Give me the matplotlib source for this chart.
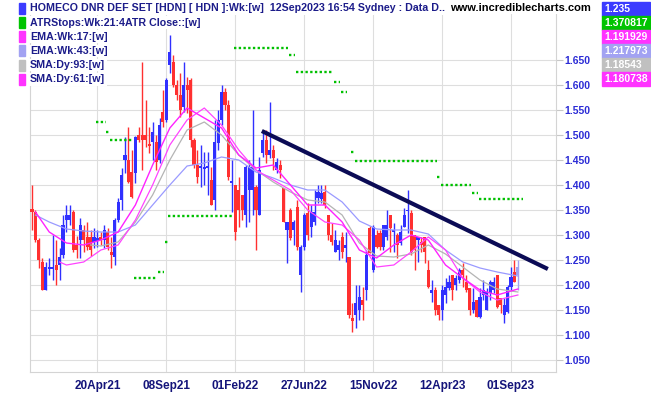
import matplotlib
matplotlib.use("Agg")
import matplotlib.pyplot as plt
import numpy as np
from matplotlib.patches import Rectangle

plt.rcParams['font.family'] = ['Liberation Sans', 'DejaVu Sans']

# weekly candles, bar 0 = early Dec 2020
opens = [1.352, 1.346, 1.29, 1.246, 1.19, 1.232, 1.232, 1.24, 1.24, 1.26,
         1.33, 1.33, 1.346, 1.28, 1.29, 1.31, 1.296, 1.296, 1.286, 1.288,
         1.296, 1.29, 1.306, 1.266, 1.256, 1.33, 1.37, 1.45, 1.45, 1.426,
         1.424, 1.50, 1.50, 1.50, 1.482, 1.486, 1.486, 1.45, 1.546, 1.53,
         1.64, 1.646, 1.60, 1.58, 1.556, 1.60, 1.61, 1.49, 1.44, 1.434,
         1.432, 1.434, 1.41, 1.37, 1.484, 1.53, 1.586, 1.56, 1.404, 1.40,
         1.39, 1.38, 1.34, 1.39, 1.39, 1.396, 1.34, 1.464, 1.49, 1.46,
         1.47, 1.43, 1.44, 1.394, 1.31, 1.35, 1.31, 1.356, 1.22, 1.276,
         1.344, 1.316, 1.326, 1.374, 1.372, 1.386, 1.34, 1.30, 1.266, 1.27,
         1.296, 1.274, 1.256, 1.134, 1.14, 1.15, 1.17, 1.19, 1.314, 1.23,
         1.30, 1.304, 1.276, 1.296, 1.34, 1.306, 1.30, 1.284, 1.316, 1.348,
         1.344, 1.30, 1.29, 1.286, 1.296, 1.23, 1.184, 1.19, 1.16, 1.15,
         1.18, 1.194, 1.22, 1.20, 1.21, 1.23, 1.206, 1.194, 1.15, 1.17,
         1.136, 1.18, 1.15, 1.184, 1.19, 1.22, 1.174, 1.14, 1.146, 1.196,
         1.226, 1.22]
highs = [1.40, 1.35, 1.294, 1.254, 1.246, 1.254, 1.30, 1.29, 1.274, 1.34,
         1.36, 1.36, 1.35, 1.298, 1.334, 1.32, 1.326, 1.31, 1.314, 1.31,
         1.306, 1.32, 1.314, 1.296, 1.334, 1.374, 1.434, 1.496, 1.516, 1.47,
         1.498, 1.516, 1.646, 1.57, 1.516, 1.526, 1.50, 1.534, 1.59, 1.614,
         1.70, 1.66, 1.61, 1.624, 1.646, 1.616, 1.614, 1.494, 1.47, 1.48,
         1.466, 1.466, 1.436, 1.53, 1.55, 1.60, 1.594, 1.57, 1.45, 1.40,
         1.416, 1.38, 1.44, 1.45, 1.55, 1.40, 1.456, 1.506, 1.51, 1.566,
         1.48, 1.454, 1.45, 1.394, 1.326, 1.354, 1.33, 1.37, 1.28, 1.344,
         1.364, 1.36, 1.39, 1.40, 1.40, 1.40, 1.34, 1.324, 1.31, 1.29,
         1.306, 1.306, 1.256, 1.164, 1.20, 1.20, 1.196, 1.27, 1.318, 1.32,
         1.31, 1.31, 1.32, 1.35, 1.34, 1.324, 1.304, 1.32, 1.354, 1.39,
         1.35, 1.30, 1.296, 1.296, 1.296, 1.25, 1.21, 1.196, 1.16, 1.20,
         1.214, 1.22, 1.22, 1.22, 1.234, 1.244, 1.22, 1.194, 1.194, 1.17,
         1.194, 1.21, 1.194, 1.21, 1.216, 1.22, 1.174, 1.174, 1.20, 1.236,
         1.25, 1.25]
lows = [1.31, 1.286, 1.234, 1.19, 1.19, 1.22, 1.21, 1.20, 1.21, 1.254,
        1.306, 1.32, 1.266, 1.254, 1.254, 1.266, 1.27, 1.258, 1.274, 1.276,
        1.28, 1.274, 1.27, 1.234, 1.24, 1.326, 1.35, 1.424, 1.404, 1.374,
        1.404, 1.486, 1.43, 1.476, 1.464, 1.45, 1.43, 1.444, 1.516, 1.526,
        1.624, 1.596, 1.57, 1.536, 1.546, 1.544, 1.476, 1.434, 1.404, 1.396,
        1.40, 1.38, 1.36, 1.35, 1.47, 1.52, 1.55, 1.41, 1.346, 1.29,
        1.316, 1.33, 1.316, 1.326, 1.34, 1.27, 1.34, 1.456, 1.444, 1.454,
        1.43, 1.424, 1.414, 1.326, 1.244, 1.29, 1.28, 1.27, 1.186, 1.27,
        1.29, 1.296, 1.32, 1.364, 1.364, 1.354, 1.29, 1.28, 1.266, 1.25,
        1.254, 1.246, 1.134, 1.106, 1.114, 1.13, 1.13, 1.17, 1.264, 1.226,
        1.274, 1.27, 1.27, 1.29, 1.266, 1.266, 1.254, 1.28, 1.316, 1.304,
        1.26, 1.23, 1.246, 1.266, 1.244, 1.194, 1.166, 1.14, 1.13, 1.13,
        1.164, 1.19, 1.17, 1.19, 1.204, 1.196, 1.186, 1.14, 1.144, 1.136,
        1.134, 1.17, 1.15, 1.17, 1.184, 1.154, 1.144, 1.124, 1.144, 1.19,
        1.206, 1.19]
closes = [1.346, 1.29, 1.25, 1.19, 1.236, 1.236, 1.236, 1.23, 1.256, 1.32,
          1.34, 1.34, 1.27, 1.27, 1.32, 1.29, 1.276, 1.27, 1.296, 1.294,
          1.29, 1.31, 1.276, 1.26, 1.33, 1.366, 1.42, 1.46, 1.406, 1.376,
          1.496, 1.49, 1.49, 1.49, 1.478, 1.506, 1.446, 1.52, 1.526, 1.61,
          1.666, 1.60, 1.58, 1.55, 1.60, 1.59, 1.49, 1.44, 1.416, 1.438,
          1.436, 1.438, 1.36, 1.486, 1.53, 1.586, 1.56, 1.416, 1.408, 1.306,
          1.35, 1.35, 1.436, 1.436, 1.436, 1.35, 1.43, 1.49, 1.46, 1.47,
          1.454, 1.446, 1.43, 1.326, 1.326, 1.294, 1.326, 1.276, 1.276, 1.34,
          1.30, 1.346, 1.346, 1.386, 1.384, 1.36, 1.30, 1.286, 1.29, 1.28,
          1.266, 1.28, 1.14, 1.128, 1.164, 1.176, 1.16, 1.26, 1.264, 1.316,
          1.276, 1.276, 1.32, 1.32, 1.314, 1.31, 1.28, 1.306, 1.34, 1.35,
          1.266, 1.27, 1.296, 1.28, 1.266, 1.196, 1.19, 1.15, 1.14, 1.19,
          1.196, 1.206, 1.19, 1.214, 1.23, 1.22, 1.19, 1.15, 1.166, 1.136,
          1.176, 1.19, 1.186, 1.206, 1.206, 1.156, 1.16, 1.16, 1.196, 1.216,
          1.206, 1.235]

# indicator lines, read at sparse bars
ma_bars = [1, 5, 10, 15, 20, 25, 30, 35, 40, 45, 50, 55, 60, 65, 70, 75, 80,
           85, 90, 95, 100, 105, 110, 115, 120, 125, 130, 135, 141]
ema17 = [1.346, 1.306, 1.284, 1.28, 1.29, 1.306, 1.36, 1.44, 1.514, 1.554,
         1.534, 1.514, 1.46, 1.434, 1.44, 1.40, 1.36, 1.36, 1.326, 1.27,
         1.254, 1.28, 1.30, 1.29, 1.24, 1.214, 1.19, 1.18, 1.192]
ema43 = [1.34, 1.326, 1.312, 1.308, 1.306, 1.306, 1.32, 1.36, 1.40, 1.438,
         1.444, 1.456, 1.45, 1.426, 1.414, 1.40, 1.39, 1.39, 1.366, 1.328,
         1.312, 1.31, 1.31, 1.302, 1.27, 1.246, 1.234, 1.226, 1.218]
sma93_bars = [17, 20, 25, 30, 35, 40, 45, 50, 55, 60, 65, 70, 75, 80, 85, 90,
              95, 100, 105, 110, 115, 120, 125, 130, 135, 141]
sma93 = [1.28, 1.278, 1.286, 1.326, 1.38, 1.45, 1.51, 1.526, 1.50, 1.46,
         1.43, 1.406, 1.386, 1.37, 1.366, 1.34, 1.284, 1.258, 1.256, 1.262,
         1.28, 1.262, 1.236, 1.21, 1.192, 1.186]
sma61_bars = [8, 10, 15, 20, 25, 30, 35, 40, 45, 50, 55, 60, 65, 70, 75, 80,
              85, 90, 95, 100, 105, 110, 115, 120, 125, 130, 135, 141]
sma61 = [1.246, 1.24, 1.246, 1.27, 1.28, 1.33, 1.40, 1.48, 1.53, 1.554,
         1.52, 1.47, 1.43, 1.41, 1.39, 1.35, 1.326, 1.32, 1.29, 1.236,
         1.24, 1.266, 1.296, 1.27, 1.214, 1.186, 1.17, 1.18]

# ATR stop steps
stop_start = [19, 22, 23, 30, 37, 39, 40, 59, 75, 77, 88, 90, 93, 94, 118, 119, 128, 130]
stop_end = [21, 22, 29, 36, 38, 39, 58, 74, 76, 87, 89, 91, 93, 117, 118, 127, 129, 142]
stop_level = [1.526, 1.506, 1.49, 1.214, 1.226, 1.286, 1.338, 1.674, 1.66, 1.626,
              1.606, 1.586, 1.466, 1.448, 1.416, 1.40, 1.384, 1.372]

trend_bars = [66.7, 149.7]
trend_prices = [1.508, 1.232]

tick_bars = [19, 39, 59, 79, 99, 119, 139]
tick_labels = ['20Apr21', '08Sep21', '01Feb22', '27Jun22', '15Nov22', '12Apr23', '01Sep23']
price_ticks = [1.05, 1.10, 1.15, 1.20, 1.25, 1.30, 1.35, 1.40, 1.45, 1.50, 1.55, 1.60, 1.65]

legend_names = ['HOMECO DNR DEF SET [HDN] [ HDN ]:Wk:[w]  12Sep2023 16:54 Sydney : Data D..',
                'ATRStops:Wk:21:4ATR Close::[w]', 'EMA:Wk:17:[w]', 'EMA:Wk:43:[w]',
                'SMA:Dy:93:[w]', 'SMA:Dy:61:[w]']
legend_colors = ['#3b3bff', '#00c400', '#ff33ff', '#a2a2f2', '#c0c0c0', '#ff33ff']
value_labels = ['1.235', '1.370817', '1.191929', '1.217973', '1.18543', '1.180738']

W, H = 651, 395
fig = plt.figure(figsize=(W / 100, H / 100), dpi=100)
ax = fig.add_axes([30 / W, 23 / H, 526 / W, 369 / H])
ax.set_xlim(-0.58, 152.06)
ax.set_ylim(1.026, 1.764)

o = np.array(opens)
c = np.array(closes)
n = len(c)
idx = np.arange(n)
cols = np.where(c >= o, '#3030ff', '#ff3030').astype(object)
cols[-1] = '#a2a2f2'
ax.vlines(idx, lows, highs, colors=list(cols), lw=1.0, zorder=3)
ax.bar(idx, np.maximum(np.abs(c - o), 0.003), bottom=np.minimum(o, c), width=0.9,
       color=list(cols), linewidth=0, zorder=3)

ax.plot(sma93_bars, sma93, color='#b4b4b4', lw=0.9, zorder=4)
ax.plot(ma_bars, ema43, color='#9a9aff', lw=0.9, zorder=4)
ax.plot(sma61_bars, sma61, color='#ff44ff', lw=0.9, zorder=4)
ax.plot(ma_bars, ema17, color='#ff22ff', lw=1.0, zorder=4)

for s, e, v in zip(stop_start, stop_end, stop_level):
    ax.plot([s - 0.4, e + 0.4], [v, v], color='#00c000', lw=1.7,
            ls=(0, (1, 1)), dash_capstyle='butt', zorder=5)

ax.plot(trend_bars, trend_prices, color='#0b0b55', lw=3, solid_capstyle='butt', zorder=6)

ax.set_yticks(price_ticks)
ax.set_yticklabels([f'{v:.3f}' for v in price_ticks])
ax.yaxis.tick_right()
ax.tick_params(axis='y', length=5, color='#c8c8c8', pad=1, labelsize=7.5, labelcolor='#2b2bd6')
for lbl in ax.get_yticklabels():
    lbl.set_fontweight('bold')
ax.set_xticks(tick_bars)
ax.set_xticklabels(tick_labels)
ax.tick_params(axis='x', length=0, pad=6, labelsize=8.5, labelcolor='#14147a')
for lbl in ax.get_xticklabels():
    lbl.set_fontweight('bold')
    lbl.set_family(['Liberation Sans Narrow', 'Liberation Sans'])
ax.grid(True, color='#dedede', lw=0.8)
ax.set_axisbelow(True)
ax.spines['top'].set_visible(False)
for side in ['left', 'right', 'bottom']:
    ax.spines[side].set_color('#d4d4d4')

for i, (name, col) in enumerate(zip(legend_names, legend_colors)):
    yc = 8.3 + 14.2 * i
    fig.patches.append(Rectangle((19 / W, 1 - (yc + 5.5) / H), 6 / W, 11 / H,
                                 transform=fig.transFigure, color=col, zorder=10))
    fig.text(30 / W, 1 - yc / H, name, va='center', ha='left', fontsize=7.7,
             fontweight='bold', color='#1c1c8a', zorder=10,
             bbox=dict(facecolor='white', edgecolor='none', pad=1))

fig.text(450 / W, 1 - 8 / H, 'www.incrediblecharts.com', va='center', ha='left',
         fontsize=8, fontweight='bold', color='black', zorder=10,
         bbox=dict(facecolor='white', edgecolor='none', pad=1))

for i, (lab, col) in enumerate(zip(value_labels, legend_colors)):
    top = 1.5 + 14 * i
    fig.patches.append(Rectangle((602 / W, 1 - (top + 14) / H), 48 / W, 14 / H,
                                 transform=fig.transFigure, color=col, zorder=10))
    fig.text(604 / W, 1 - (top + 7) / H, lab, va='center', ha='left', fontsize=7.5,
             fontweight='bold', color='white', zorder=11)

fig.savefig('out.png', dpi=100)
